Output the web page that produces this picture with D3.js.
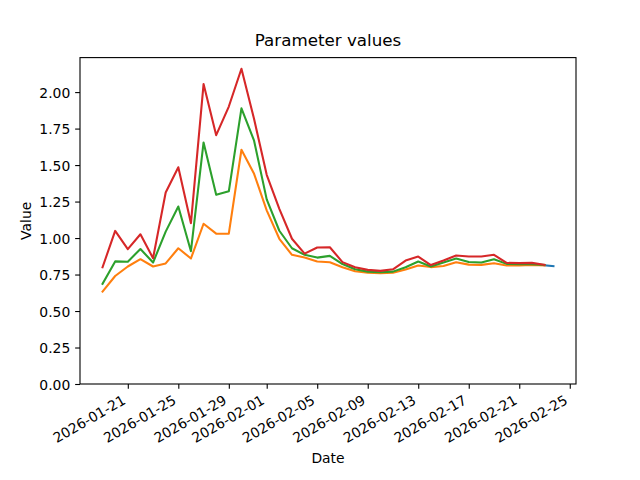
<!DOCTYPE html>
<html>
<head>
<meta charset="utf-8">
<script src="https://cdn.jsdelivr.net/npm/d3@7"></script>
<style>
  html, body { margin: 0; padding: 0; background: #fff; }
  svg { display: block; font-family: "DejaVu Sans", sans-serif; }
</style>
</head>
<body>
<svg id="chart" width="640" height="480"></svg>
<script>
const dates = [
  "2026-01-19","2026-01-20","2026-01-21","2026-01-22","2026-01-23","2026-01-24",
  "2026-01-25","2026-01-26","2026-01-27","2026-01-28","2026-01-29","2026-01-30",
  "2026-01-31","2026-02-01","2026-02-02","2026-02-03","2026-02-04","2026-02-05",
  "2026-02-06","2026-02-07","2026-02-08","2026-02-09","2026-02-10","2026-02-11",
  "2026-02-12","2026-02-13","2026-02-14","2026-02-15","2026-02-16","2026-02-17",
  "2026-02-18","2026-02-19","2026-02-20","2026-02-21","2026-02-22","2026-02-23"
];
const redValues = [
  0.800, 1.049, 0.924, 1.026, 0.862, 1.312, 1.485, 1.102, 2.055, 1.705, 1.901, 2.160,
  1.815, 1.433, 1.200, 0.995, 0.893, 0.935, 0.937, 0.835, 0.800, 0.782, 0.775, 0.786,
  0.846, 0.873, 0.815, 0.846, 0.880, 0.873, 0.873, 0.885, 0.830, 0.828, 0.830, 0.816
];
const greenValues = [
  0.686, 0.840, 0.838, 0.925, 0.832, 1.044, 1.216, 0.910, 1.655, 1.296, 1.320, 1.889,
  1.667, 1.265, 1.050, 0.930, 0.885, 0.866, 0.878, 0.822, 0.786, 0.770, 0.766, 0.770,
  0.800, 0.839, 0.805, 0.832, 0.860, 0.836, 0.832, 0.855, 0.823, 0.821, 0.821, 0.816
];
const orangeValues = [
  0.633, 0.740, 0.805, 0.855, 0.805, 0.826, 0.930, 0.860, 1.098, 1.030, 1.030, 1.605,
  1.440, 1.190, 0.995, 0.885, 0.866, 0.839, 0.834, 0.800, 0.772, 0.762, 0.759, 0.762,
  0.785, 0.812, 0.801, 0.808, 0.834, 0.818, 0.816, 0.827, 0.812, 0.812, 0.815, 0.813
];
const blueDates = ["2026-02-23T00:00", "2026-02-23T17:00"];
const blueValues = [0.813, 0.807];

const xTickLabels = ["2026-01-21","2026-01-25","2026-01-29","2026-02-01","2026-02-05",
  "2026-02-09","2026-02-13","2026-02-17","2026-02-21","2026-02-25"];
const yTickValues = [0.00, 0.25, 0.50, 0.75, 1.00, 1.25, 1.50, 1.75, 2.00];

const parseDay = d3.utcParse("%Y-%m-%d");
const parseTime = d3.utcParse("%Y-%m-%dT%H:%M");

const W = 640, H = 480;
const m = { left: 80, right: 576, top: 57.6, bottom: 384 };
const svg = d3.select("#chart");

const series = [
  { color: "#1f77b4", pts: blueDates.map((d, i) => ({ x: parseTime(d), y: blueValues[i] })) },
  { color: "#ff7f0e", pts: dates.map((d, i) => ({ x: parseDay(d), y: orangeValues[i] })) },
  { color: "#2ca02c", pts: dates.map((d, i) => ({ x: parseDay(d), y: greenValues[i] })) },
  { color: "#d62728", pts: dates.map((d, i) => ({ x: parseDay(d), y: redValues[i] })) }
];

const allX = series.flatMap(s => s.pts.map(p => +p.x));
const allY = series.flatMap(s => s.pts.map(p => p.y));
const x0 = d3.min(allX), x1 = d3.max(allX);
const padX = (x1 - x0) * 0.05;
const y0 = d3.min(allY), y1 = d3.max(allY);
const yTop = y1 + (y1 - y0) * 0.05;

const x = d3.scaleUtc().domain([new Date(x0 - padX), new Date(x1 + padX)]).range([m.left, m.right]);
const y = d3.scaleLinear().domain([0, yTop]).range([m.bottom, m.top]);

const line = d3.line().x(p => x(p.x)).y(p => y(p.y));

const plot = svg.append("g");
series.forEach(s => {
  plot.append("path")
    .attr("d", line(s.pts))
    .attr("fill", "none")
    .attr("stroke", s.color)
    .attr("stroke-width", 2.08)
    .attr("stroke-linejoin", "round")
    .attr("stroke-linecap", "square");
});

// spines
svg.append("rect")
  .attr("x", m.left).attr("y", m.top)
  .attr("width", m.right - m.left).attr("height", m.bottom - m.top)
  .attr("fill", "none").attr("stroke", "#000").attr("stroke-width", 1.1);

const fs = 13.9;
// x axis
const xAxis = d3.axisBottom(x)
  .tickValues(xTickLabels.map(parseDay))
  .tickFormat(d3.utcFormat("%Y-%m-%d"))
  .tickSize(4.86).tickPadding(0);
const gx = svg.append("g").attr("transform", `translate(0,${m.bottom})`).call(xAxis);
gx.select(".domain").remove();
gx.selectAll(".tick line").attr("stroke", "#000").attr("stroke-width", 1.1);
gx.selectAll(".tick text")
  .attr("font-size", fs)
  .attr("font-family", "DejaVu Sans")
  .attr("fill", "#000")
  .attr("text-anchor", "end")
  .attr("dy", null)
  .attr("y", null)
  .attr("transform", "translate(-1.7,19) rotate(-30)");

// y axis
const yAxis = d3.axisLeft(y)
  .tickValues(yTickValues)
  .tickFormat(d3.format(".2f"))
  .tickSize(4.86).tickPadding(4.86);
const gy = svg.append("g").attr("transform", `translate(${m.left},0)`).call(yAxis);
gy.select(".domain").remove();
gy.selectAll(".tick line").attr("stroke", "#000").attr("stroke-width", 1.1);
gy.selectAll(".tick text")
  .attr("font-size", fs)
  .attr("font-family", "DejaVu Sans")
  .attr("fill", "#000")
  .attr("dy", "0.36em");

// title and labels
svg.append("text")
  .attr("x", (m.left + m.right) / 2).attr("y", 45.5)
  .attr("text-anchor", "middle")
  .attr("font-size", 16.7)
  .attr("fill", "#000")
  .text("Parameter values");

svg.append("text")
  .attr("x", (m.left + m.right) / 2).attr("y", 463)
  .attr("text-anchor", "middle")
  .attr("font-size", fs)
  .attr("fill", "#000")
  .text("Date");

svg.append("text")
  .attr("transform", `translate(31,${(m.top + m.bottom) / 2}) rotate(-90)`)
  .attr("text-anchor", "middle")
  .attr("font-size", fs)
  .attr("fill", "#000")
  .text("Value");
</script>
</body>
</html>
